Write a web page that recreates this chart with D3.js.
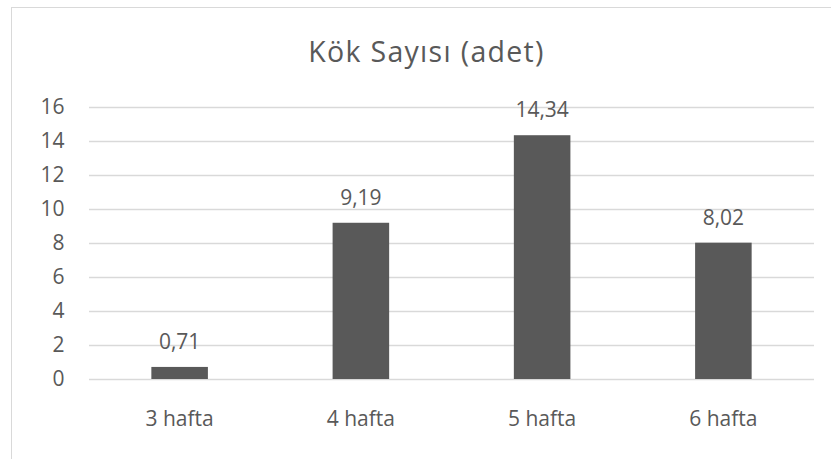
<!DOCTYPE html>
<html>
<head>
<meta charset="utf-8">
<script src="https://cdn.jsdelivr.net/npm/d3@7/dist/d3.min.js"></script>
<style>
  html, body { margin: 0; padding: 0; background: #fff; }
  svg { display: block; }
  text { font-family: "Open Sans", "Liberation Sans", sans-serif; fill: #595959; }
</style>
</head>
<body>
<svg id="chart" width="831" height="459"></svg>
<script>
const titleText = "Kök Sayısı (adet)";
const categories = ["3 hafta", "4 hafta", "5 hafta", "6 hafta"];
const values = [0.71, 9.19, 14.34, 8.02];
const valueLabels = ["0,71", "9,19", "14,34", "8,02"];
const yTicks = [0, 2, 4, 6, 8, 10, 12, 14, 16];

const svg = d3.select("#chart");
const W = 831, H = 459;
const FS = 21;

svg.append("rect").attr("x", 0).attr("y", 0).attr("width", W).attr("height", H).attr("fill", "#fff");
// chart frame
svg.append("rect")
  .attr("x", 11.5).attr("y", 7.5).attr("width", 840).attr("height", 470)
  .attr("fill", "none").attr("stroke", "#d9d9d9").attr("stroke-width", 1);

const plot = { left: 89, right: 814, top: 107, bottom: 379 };

const x = d3.scaleBand().domain(categories)
  .range([plot.left, plot.right])
  .paddingInner(0.688).paddingOuter(0.344);
const y = d3.scaleLinear().domain([0, 16]).range([plot.bottom, plot.top]);

// gridlines
svg.append("g").selectAll("line").data(yTicks).join("line")
  .attr("x1", plot.left).attr("x2", plot.right)
  .attr("y1", d => Math.round(y(d)) + 0.5).attr("y2", d => Math.round(y(d)) + 0.5)
  .attr("stroke", "#d9d9d9").attr("stroke-width", 1.5);

// y axis labels
const yAxis = d3.axisLeft(y).tickValues(yTicks).tickSize(0).tickPadding(0).tickFormat(d3.format("d"));
const gy = svg.append("g").attr("transform", "translate(64.5,0)").call(yAxis);
gy.select(".domain").remove();
gy.selectAll("text").attr("font-size", FS).attr("fill", "#595959")
  .style("font-family", "'Open Sans', sans-serif");

// bars
svg.append("g").selectAll("rect").data(values).join("rect")
  .attr("x", (d, i) => x(categories[i]))
  .attr("y", d => y(d))
  .attr("width", x.bandwidth())
  .attr("height", d => y(0) - y(d))
  .attr("fill", "#595959");

// data labels
svg.append("g").selectAll("text").data(values).join("text")
  .attr("x", (d, i) => x(categories[i]) + x.bandwidth() / 2)
  .attr("y", d => y(d) - 18)
  .attr("text-anchor", "middle")
  .attr("font-size", FS)
  .text((d, i) => valueLabels[i]);

// x axis labels
const xAxis = d3.axisBottom(x).tickSize(0).tickPadding(0);
const gx = svg.append("g").attr("transform", `translate(0,${plot.bottom})`).call(xAxis);
gx.select(".domain").remove();
gx.selectAll("text").attr("font-size", FS).attr("fill", "#595959")
  .attr("dy", null).attr("y", 47)
  .style("font-family", "'Open Sans', sans-serif");

// title
svg.append("text")
  .attr("x", 426.5).attr("y", 62)
  .attr("text-anchor", "middle")
  .attr("font-size", 28.5)
  .attr("letter-spacing", 1.3)
  .text(titleText);
</script>
</body>
</html>
